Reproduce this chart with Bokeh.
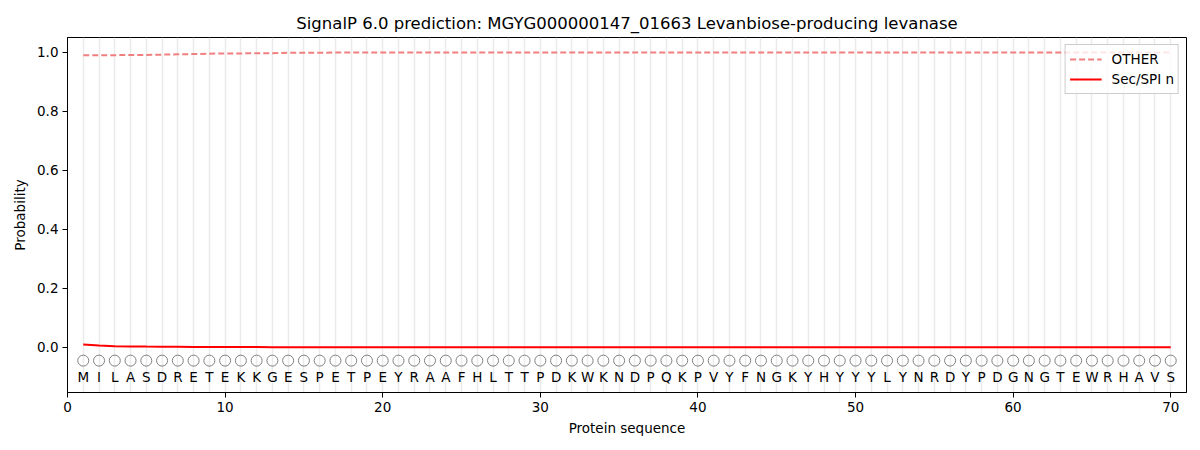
from bokeh.plotting import figure
from bokeh.embed import file_html
from bokeh.resources import INLINE
from bokeh.models import FixedTicker, Range1d, Legend, LegendItem, ColumnDataSource, CustomJSTickFormatter
from bokeh.core.properties import value

sequence = list("MILASDRETEKKGESPETPEYRAAFHLTTPDKWKNDPQKPVYFNGKYHYYYLYNRDYPDGNGTEWRHAVS")
positions = list(range(1, len(sequence) + 1))

other = [0.990, 0.990, 0.990, 0.991, 0.991, 0.992, 0.993, 0.994, 0.995, 0.996,
         0.996, 0.997, 0.997, 0.998, 0.998, 0.998, 0.999, 0.999, 0.999, 0.999,
         0.999, 0.999, 0.999, 0.999, 0.999, 0.999, 0.999, 0.999, 0.999, 0.999,
         0.999, 0.999, 0.999, 0.999, 0.999, 0.999, 0.999, 0.999, 0.999, 0.999,
         0.999, 0.999, 0.999, 0.999, 0.999, 0.999, 0.999, 0.999, 0.999, 0.999,
         0.999, 0.999, 0.999, 0.999, 0.999, 0.999, 0.999, 0.999, 0.999, 0.999,
         0.999, 0.999, 0.999, 0.999, 0.999, 0.999, 0.999, 0.999, 0.999, 0.999]
sec_spi_n = [0.010, 0.006, 0.004, 0.0033, 0.0027, 0.0022, 0.0018, 0.0015, 0.0012, 0.0010,
             0.0009, 0.0008, 0.0007, 0.0006, 0.0006, 0.0005, 0.0005, 0.0004, 0.0004, 0.0004,
             0.0003, 0.0003, 0.0003, 0.0003, 0.0003, 0.0003, 0.0003, 0.0002, 0.0002, 0.0002,
             0.0002, 0.0002, 0.0002, 0.0002, 0.0002, 0.0002, 0.0002, 0.0002, 0.0002, 0.0002,
             0.0002, 0.0002, 0.0002, 0.0002, 0.0002, 0.0002, 0.0002, 0.0002, 0.0002, 0.0002,
             0.0002, 0.0002, 0.0002, 0.0002, 0.0002, 0.0002, 0.0002, 0.0002, 0.0002, 0.0002,
             0.0002, 0.0002, 0.0002, 0.0002, 0.0002, 0.0002, 0.0002, 0.0002, 0.0002, 0.0002]

x_ticks = [0, 10, 20, 30, 40, 50, 60, 70]
y_ticks = [0.0, 0.2, 0.4, 0.6, 0.8, 1.0]

FONT = "DejaVu Sans"

p = figure(width=1200, height=450, output_backend="svg", toolbar_location=None,
           x_range=Range1d(0, 71), y_range=Range1d(-0.153, 1.05),
           title="SignalP 6.0 prediction: MGYG000000147_01663 Levanbiose-producing levanase",
           min_border_left=67, min_border_right=14, min_border_top=37, min_border_bottom=58)

p.title.align = "center"
p.title.text_font = FONT
p.title.text_font_size = "16.5px"
p.title.text_font_style = "normal"
p.title.text_color = "black"
p.title.offset = 0

p.outline_line_color = "black"
p.outline_line_width = 1
p.outline_line_alpha = 1

p.xaxis.ticker = FixedTicker(ticks=x_ticks)
p.yaxis.ticker = FixedTicker(ticks=y_ticks)
p.yaxis.formatter = CustomJSTickFormatter(code="return tick.toFixed(1);")
p.xaxis.axis_label = "Protein sequence"
p.yaxis.axis_label = "Probability"
for ax in (p.xaxis, p.yaxis):
    ax.axis_label_text_font = FONT
    ax.axis_label_text_font_size = "13.5px"
    ax.axis_label_text_font_style = "normal"
    ax.axis_label_text_color = "black"
    ax.major_label_text_font = FONT
    ax.major_label_text_font_size = "13.5px"
    ax.major_label_text_color = "black"
    ax.minor_tick_line_color = None
    ax.major_tick_out = 5
    ax.major_tick_in = 0
    ax.axis_line_color = "black"
    ax.major_tick_line_color = "black"
p.xaxis.axis_label_standoff = 5
p.yaxis.axis_label_standoff = 6
p.xaxis.major_label_standoff = 4
p.yaxis.major_label_standoff = 4

p.ygrid.grid_line_color = None
p.xgrid.ticker = FixedTicker(ticks=positions)
p.xgrid.grid_line_color = "#e6e6e6"
p.xgrid.grid_line_alpha = 0.8
p.xgrid.grid_line_width = 1.5

src = ColumnDataSource(dict(x=positions, aa=sequence,
                            cy=[-0.045] * len(positions), ty=[-0.1] * len(positions),
                            other=other, sec=sec_spi_n))

r_other = p.line("x", "other", source=src, line_color="#f08080", line_dash="6 3", line_width=2)
r_sec = p.line("x", "sec", source=src, line_color="red", line_width=2)

p.scatter("x", "cy", source=src, size=11, fill_color=None, line_color="gray", line_width=1)
p.text("x", "ty", text="aa", source=src, text_align="center", text_baseline="middle",
       text_font=value(FONT), text_font_size="13.5px", text_color="black")

legend = Legend(items=[LegendItem(label="OTHER", renderers=[r_other]),
                       LegendItem(label="Sec/SPI n", renderers=[r_sec])],
                location="top_right")
legend.label_text_font = FONT
legend.label_text_font_size = "13.5px"
legend.label_text_color = "black"
legend.border_line_color = "#cccccc"
legend.border_line_alpha = 1
legend.background_fill_alpha = 0.8
legend.margin = 7
legend.padding = 4
legend.spacing = 0
legend.label_height = 20
legend.glyph_height = 20
legend.glyph_width = 32
legend.label_standoff = 10
p.add_layout(legend)

open("out.html", "w").write(file_html(p, INLINE))
